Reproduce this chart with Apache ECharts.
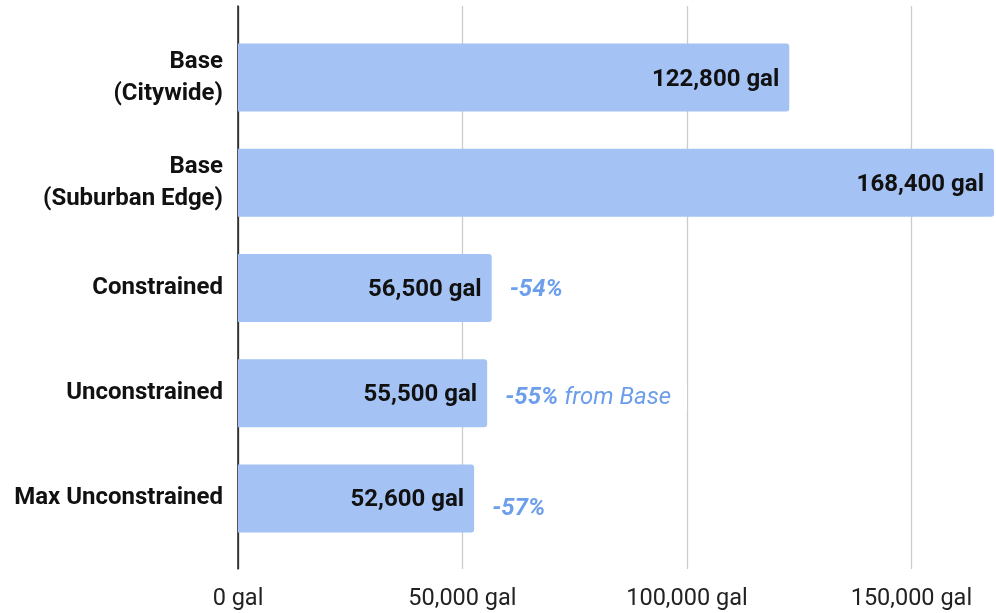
<!DOCTYPE html>
<html>
<head>
<meta charset="utf-8">
<title>Water use by scenario</title>
<script src="https://cdn.jsdelivr.net/npm/echarts@6/dist/echarts.min.js"></script>
<style>
  html, body { margin: 0; padding: 0; background: #ffffff; }
  #chart { width: 996px; height: 613px; }
</style>
</head>
<body>
<div id="chart"></div>
<script>
// Scenario names (top to bottom)
const categories = [
  'Base\n(Citywide)',
  'Base\n(Suburban Edge)',
  'Constrained',
  'Unconstrained',
  'Max Unconstrained'
];
// Annual water volume per scenario, gallons
const volumes = [122800, 168400, 56500, 55500, 52600];
// Change annotations next to the smaller bars
const changeText = ['', '', '-54%', '-55%', '-57%'];
const changeSuffix = ['', '', '', ' from Base', ''];
// Gridline step on the value axis
const tickStep = 50000;

const FONT = 'Roboto, "Noto Sans", sans-serif';
const BAR_COLOR = '#a4c2f4';
const NOTE_COLOR = '#6d9eeb';
const axisMax = Math.max(...volumes);

function gal(v) {
  return v.toLocaleString('en-US') + ' gal';
}

const noteData = volumes.map((v, i) => {
  const item = { value: v };
  if (!changeText[i]) {
    item.label = { show: false };
    return item;
  }
  const lbl = {
    show: true,
    offset: [0, 2],
    formatter: changeSuffix[i]
      ? '{b|' + changeText[i] + '}{n|' + changeSuffix[i] + '}'
      : '{b|' + changeText[i] + '}'
  };
  if (changeSuffix[i]) {
    lbl.backgroundColor = '#ffffff';
    lbl.padding = [3, 16, 3, 2];
    lbl.offset = [-2, 5];
  }
  if (i === 4) lbl.offset = [0, 11];
  item.label = lbl;
  return item;
});

const chart = echarts.init(document.getElementById('chart'), null, { renderer: 'canvas' });

chart.setOption({
  backgroundColor: '#ffffff',
  animation: false,
  textStyle: { fontFamily: FONT },
  grid: [
    // bars
    { left: 238, right: 2, top: 25, bottom: 62, containLabel: false, outerBoundsMode: 'none' },
    // gridlines, axis line and tick labels
    { left: 238, right: 2, top: 6, bottom: 44, containLabel: false, outerBoundsMode: 'none' }
  ],
  xAxis: [
    {
      gridIndex: 0, type: 'value', min: 0, max: axisMax,
      show: false
    },
    {
      gridIndex: 1, type: 'value', min: 0, max: axisMax, interval: tickStep,
      axisLine: { show: false },
      axisTick: { show: false },
      axisLabel: {
        showMaxLabel: false,
        margin: 18,
        fontSize: 23.5,
        color: '#222222',
        fontFamily: FONT,
        formatter: gal
      },
      splitLine: {
        show: true,
        lineStyle: { color: ['#333333', '#cccccc', '#cccccc', '#cccccc', 'rgba(0,0,0,0)'], width: 1.3 }
      }
    }
  ],
  yAxis: [
    {
      gridIndex: 0, type: 'category', data: categories, inverse: true,
      axisLine: { show: false },
      axisTick: { show: false },
      splitLine: { show: false },
      axisLabel: {
        margin: 15,
        fontSize: 24,
        fontWeight: 'bold',
        color: '#111111',
        lineHeight: 32,
        align: 'right',
        padding: [6, 0, 0, 0],
        fontFamily: FONT
      }
    },
    {
      gridIndex: 1, type: 'value', min: 0, max: 1,
      axisLine: { show: true, lineStyle: { color: '#333333', width: 1.6 } },
      axisTick: { show: false },
      axisLabel: { show: false },
      splitLine: { show: false }
    }
  ],
  series: [
    {
      name: 'Volume',
      type: 'bar',
      xAxisIndex: 0,
      yAxisIndex: 0,
      data: volumes,
      barWidth: '64.6%',
      z: 3,
      itemStyle: { color: BAR_COLOR, borderRadius: [0, 3, 3, 0] },
      label: {
        show: true,
        position: 'insideRight',
        distance: 10,
        offset: [0, 2],
        fontSize: 24,
        fontWeight: 'bold',
        color: '#111111',
        fontFamily: FONT,
        formatter: p => gal(p.value)
      },
      silent: true
    },
    {
      name: 'Change',
      type: 'bar',
      xAxisIndex: 0,
      yAxisIndex: 0,
      data: noteData,
      barWidth: '64.6%',
      barGap: '-100%',
      z: 2,
      itemStyle: { color: 'rgba(0,0,0,0)' },
      label: {
        show: true,
        position: 'right',
        distance: 18,
        fontFamily: FONT,
        rich: {
          b: { fontSize: 24, fontWeight: 'bold', fontStyle: 'italic', color: NOTE_COLOR, fontFamily: FONT },
          n: { fontSize: 24, fontWeight: 'normal', fontStyle: 'italic', color: NOTE_COLOR, fontFamily: FONT }
        }
      },
      silent: true
    }
  ]
});
</script>
</body>
</html>
